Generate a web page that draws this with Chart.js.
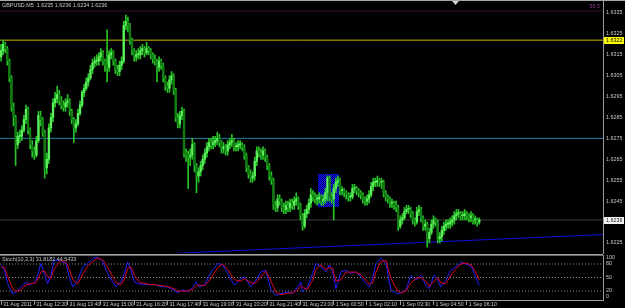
<!DOCTYPE html>
<html><head><meta charset="utf-8">
<script src="https://cdn.jsdelivr.net/npm/chart.js@4/dist/chart.umd.min.js"></script>
<style>
html,body{margin:0;padding:0;background:#000;}
#wrap{position:relative;width:625px;height:308px;background:#000;overflow:hidden;}
#c1{position:absolute;left:0;top:0;}
#c2{position:absolute;left:0;top:254px;}
</style></head><body>
<div id="wrap"><canvas id="c1" width="625" height="254"></canvas><canvas id="c2" width="625" height="54"></canvas></div>
<script>
// ---------- DATA ----------
const symbolTitle = "GBPUSD,M5  1.6235 1.6236 1.6234 1.6236";
const stochTitle = "Stoch(10,3,3) 31.8182 44.5433";
const firstOpen = 1.6314;
const closes = [
1.6317,1.6320,1.6318,1.6312,1.6304,1.6290,1.6285,1.6272,1.6276,1.6276,
1.6279,1.6284,1.6289,1.6279,1.6272,1.6269,1.6267,1.6274,1.6286,1.6284,
1.6278,1.6261,1.6265,1.6280,1.6285,1.6292,1.6294,1.6296,1.6293,1.6291,
1.6290,1.6292,1.6293,1.6288,1.6284,1.6280,1.6282,1.6287,1.6291,1.6297,
1.6299,1.6302,1.6304,1.6308,1.6311,1.6312,1.6312,1.6314,1.6316,1.6312,
1.6310,1.6309,1.6315,1.6316,1.6312,1.6308,1.6307,1.6310,1.6312,1.6329,
1.6331,1.6329,1.6322,1.6317,1.6314,1.6315,1.6315,1.6317,1.6318,1.6316,
1.6318,1.6317,1.6315,1.6313,1.6312,1.6309,1.6312,1.6310,1.6304,1.6300,
1.6299,1.6303,1.6305,1.6298,1.6285,1.6282,1.6286,1.6288,1.6268,1.6267,
1.6266,1.6267,1.6272,1.6262,1.6257,1.6259,1.6262,1.6265,1.6268,1.6271,
1.6273,1.6272,1.6273,1.6274,1.6275,1.6273,1.6270,1.6271,1.6269,1.6272,
1.6273,1.6274,1.6271,1.6271,1.6272,1.6272,1.6271,1.6267,1.6261,1.6258,
1.6256,1.6257,1.6264,1.6269,1.6268,1.6267,1.6269,1.6266,1.6262,1.6257,
1.6255,1.6243,1.6242,1.6246,1.6245,1.6242,1.6241,1.6243,1.6242,1.6244,
1.6243,1.6245,1.6246,1.6243,1.6238,1.6233,1.6239,1.6241,1.6244,1.6248,
1.6247,1.6246,1.6246,1.6247,1.6245,1.6246,1.6249,1.6256,1.6247,1.6246,
1.6251,1.6254,1.6255,1.6250,1.6250,1.6249,1.6248,1.6247,1.6247,1.6251,
1.6251,1.6250,1.6249,1.6248,1.6246,1.6245,1.6246,1.6248,1.6252,1.6254,
1.6254,1.6255,1.6254,1.6254,1.6249,1.6247,1.6246,1.6244,1.6244,1.6243,
1.6242,1.6233,1.6236,1.6237,1.6240,1.6241,1.6241,1.6239,1.6236,1.6235,
1.6240,1.6241,1.6237,1.6233,1.6234,1.6227,1.6230,1.6234,1.6236,1.6235,
1.6227,1.6228,1.6231,1.6233,1.6234,1.6234,1.6235,1.6236,1.6238,1.6239,
1.6239,1.6238,1.6238,1.6239,1.6238,1.6237,1.6238,1.6236,1.6236,1.6235,
1.6236];
const highs = [
1.6320,1.6322,1.6321,1.6319,1.6313,1.6305,1.6292,1.6286,1.6278,1.6279,
1.6281,1.6286,1.6291,1.6290,1.6280,1.6274,1.6271,1.6276,1.6288,1.6288,
1.6285,1.6279,1.6268,1.6282,1.6287,1.6294,1.6297,1.6300,1.6298,1.6295,
1.6293,1.6294,1.6296,1.6294,1.6289,1.6285,1.6284,1.6289,1.6293,1.6298,
1.6301,1.6304,1.6306,1.6310,1.6313,1.6314,1.6315,1.6316,1.6318,1.6317,
1.6313,1.6327,1.6317,1.6318,1.6317,1.6313,1.6310,1.6312,1.6314,1.6331,
1.6334,1.6333,1.6330,1.6323,1.6318,1.6317,1.6318,1.6319,1.6320,1.6319,
1.6321,1.6319,1.6318,1.6316,1.6315,1.6313,1.6314,1.6313,1.6311,1.6305,
1.6302,1.6305,1.6307,1.6306,1.6299,1.6287,1.6288,1.6290,1.6289,1.6270,
1.6269,1.6270,1.6275,1.6273,1.6263,1.6261,1.6264,1.6267,1.6270,1.6273,
1.6275,1.6275,1.6276,1.6276,1.6278,1.6277,1.6274,1.6273,1.6272,1.6274,
1.6275,1.6277,1.6275,1.6273,1.6274,1.6274,1.6273,1.6272,1.6268,1.6262,
1.6260,1.6259,1.6266,1.6271,1.6271,1.6270,1.6271,1.6270,1.6267,1.6263,
1.6259,1.6256,1.6245,1.6248,1.6248,1.6246,1.6244,1.6245,1.6245,1.6246,
1.6246,1.6247,1.6249,1.6247,1.6244,1.6239,1.6241,1.6243,1.6246,1.6251,
1.6250,1.6249,1.6248,1.6249,1.6248,1.6248,1.6251,1.6257,1.6257,1.6249,
1.6253,1.6256,1.6257,1.6256,1.6252,1.6251,1.6250,1.6249,1.6249,1.6253,
1.6253,1.6252,1.6251,1.6250,1.6249,1.6247,1.6248,1.6250,1.6254,1.6256,
1.6256,1.6257,1.6256,1.6256,1.6255,1.6250,1.6248,1.6247,1.6246,1.6245,
1.6245,1.6243,1.6238,1.6239,1.6242,1.6243,1.6243,1.6242,1.6240,1.6237,
1.6242,1.6243,1.6242,1.6238,1.6236,1.6235,1.6232,1.6236,1.6238,1.6237,
1.6236,1.6230,1.6233,1.6235,1.6236,1.6236,1.6237,1.6238,1.6240,1.6241,
1.6241,1.6240,1.6240,1.6241,1.6240,1.6239,1.6240,1.6239,1.6238,1.6237,
1.6237];
const lows = [
1.6312,1.6315,1.6316,1.6310,1.6302,1.6288,1.6281,1.6262,1.6270,1.6273,
1.6274,1.6278,1.6282,1.6277,1.6270,1.6266,1.6265,1.6266,1.6273,1.6281,
1.6276,1.6256,1.6258,1.6263,1.6278,1.6283,1.6290,1.6292,1.6291,1.6289,
1.6288,1.6288,1.6290,1.6286,1.6282,1.6273,1.6278,1.6281,1.6286,1.6290,
1.6295,1.6298,1.6300,1.6303,1.6306,1.6309,1.6310,1.6310,1.6312,1.6310,
1.6307,1.6302,1.6307,1.6313,1.6310,1.6306,1.6305,1.6305,1.6308,1.6311,
1.6327,1.6326,1.6320,1.6315,1.6312,1.6312,1.6313,1.6313,1.6315,1.6314,
1.6315,1.6315,1.6313,1.6311,1.6310,1.6302,1.6307,1.6308,1.6302,1.6298,
1.6297,1.6297,1.6301,1.6296,1.6283,1.6280,1.6280,1.6284,1.6266,1.6264,
1.6251,1.6262,1.6265,1.6259,1.6249,1.6254,1.6257,1.6260,1.6263,1.6266,
1.6269,1.6270,1.6270,1.6271,1.6272,1.6271,1.6268,1.6268,1.6267,1.6267,
1.6270,1.6271,1.6269,1.6269,1.6269,1.6270,1.6269,1.6265,1.6259,1.6256,
1.6254,1.6254,1.6255,1.6262,1.6266,1.6265,1.6265,1.6264,1.6260,1.6255,
1.6253,1.6241,1.6240,1.6240,1.6243,1.6240,1.6239,1.6239,1.6240,1.6240,
1.6241,1.6241,1.6243,1.6241,1.6236,1.6231,1.6232,1.6237,1.6239,1.6242,
1.6245,1.6244,1.6243,1.6244,1.6243,1.6243,1.6244,1.6245,1.6245,1.6244,
1.6236,1.6249,1.6252,1.6248,1.6248,1.6247,1.6246,1.6245,1.6245,1.6246,
1.6249,1.6248,1.6247,1.6246,1.6244,1.6243,1.6243,1.6244,1.6247,1.6250,
1.6252,1.6252,1.6252,1.6251,1.6247,1.6245,1.6244,1.6242,1.6242,1.6241,
1.6240,1.6231,1.6232,1.6234,1.6236,1.6239,1.6239,1.6237,1.6234,1.6233,
1.6234,1.6238,1.6235,1.6231,1.6231,1.6223,1.6225,1.6229,1.6232,1.6233,
1.6225,1.6225,1.6226,1.6229,1.6231,1.6232,1.6232,1.6233,1.6234,1.6236,
1.6237,1.6236,1.6236,1.6236,1.6236,1.6235,1.6235,1.6234,1.6234,1.6233,
1.6234];
const timeLabels = ["31 Aug 2011","31 Aug 12:20","31 Aug 13:40","31 Aug 15:00","31 Aug 16:20","31 Aug 17:40","31 Aug 19:00","31 Aug 20:20","31 Aug 21:40","31 Aug 23:00","1 Sep 00:50","1 Sep 02:10","1 Sep 03:30","1 Sep 04:50","1 Sep 06:10"];
const labelBars = [0,16,32,48,64,80,96,112,128,144,160,176,192,208,224];
const priceTicks = [1.6225,1.6235,1.6245,1.6255,1.6265,1.6275,1.6285,1.6295,1.6305,1.6315,1.6325,1.6335];
const levelYellow = 1.6322;
const levelCyan = 1.6275;
const bidPrice = 1.6236;
const topLinePrice = 1.6336;
const trendBars = [60, 289.5];
const trendPrices = [1.6219, 1.6229];
const boxBars = [152.4, 162.5];
const boxPrices = [1.6242, 1.6258];
const stochBars = [0,1.6,3.2,5.6,7.2,9.6,12,14.4,16.8,19.2,20.8,22.4,24,25.6,28.8,31.3,32.8,34.5,36.9,39.3,41.7,44.1,46.5,48.9,51.3,53.7,55.3,57.7,59.3,60.9,62.5,64.1,66.5,70.5,73.7,76.9,80.1,83.3,85,87.4,89.8,92.2,93.8,95.5,98,101,104.2,106.6,109,112.2,115.4,117,120.2,122.6,125,127.4,129.8,132.2,134.6,137.8,140.2,142.6,144.2,145,147.4,149.9,151.4,153.8,156.3,157.8,159.5,161,163.5,165.9,168.3,170.7,173.1,175.5,177.1,178.7,180.3,182.7,185.1,187.5,190.7,192.5,194.7,197.1,199.5,201.9,204.3,205.9,208.3,210,211.5,213.9,216.3,218.8,221.2,223.6,226,227.6,230];
const stochMain = [78,66,36,14,18,29,40,33,44,81,59,36,55,89,87,81,51,29,44,74,81,93,95,85,59,40,29,40,59,84,66,40,36,34,34,30,29,22,16,23,18,29,40,29,34,62,81,78,59,33,48,51,29,44,63,66,22,10,14,18,14,29,40,18,29,59,81,74,63,78,63,25,63,66,59,63,51,36,29,48,81,93,81,22,14,16,22,55,44,55,33,25,55,44,29,44,66,74,85,80,76,59,32];
const stochSignal = [74,72,52,25,20,22,34,36,38,62,65,52,48,70,88,84,68,45,36,58,76,86,93,90,72,52,38,34,46,70,74,55,40,35,34,32,30,25,20,20,20,24,32,33,32,48,72,80,68,45,42,48,38,38,52,64,42,18,12,15,16,22,32,28,24,44,68,78,68,72,70,42,45,62,62,62,56,44,35,38,62,86,88,48,20,16,20,38,48,50,42,30,42,50,38,36,54,70,80,82,78,68,45];
const stochLevels = [80,50,20];

// ---------- DERIVED ----------
const opens = closes.map((c,i)=> i===0 ? firstOpen : closes[i-1]);
const XMIN = -0.5, XMAX = 289.5;
const FONT = "'Liberation Sans', Arial, sans-serif";
const TXT = '#c8c8c8';
const AXIS = '#9a9a9a';

function hline(v, color, extra){
  return Object.assign({type:'line', data:[{x:XMIN,y:v},{x:XMAX,y:v}], borderColor:color, borderWidth:1, pointRadius:0, order:5}, extra||{});
}
function noPad(s){ s.paddingTop=0; s.paddingBottom=0; s.paddingLeft=0; s.paddingRight=0; }

function bluePattern(ctx){
  const p = document.createElement('canvas'); p.width=2; p.height=2;
  const g = p.getContext('2d');
  g.fillStyle='#1818ff'; g.fillRect(0,0,2,2);
  g.fillStyle='#00006a'; g.fillRect(0,0,1,1); g.fillRect(1,1,1,1);
  return ctx.createPattern(p,'repeat');
}

const overlay1 = {
  id:'overlay1',
  beforeDatasetsDraw(chart){
    const {ctx, scales:{x,y}} = chart;
    const x0 = x.getPixelForValue(boxBars[0]), x1 = x.getPixelForValue(boxBars[1]);
    const y0 = y.getPixelForValue(boxPrices[1]), y1 = y.getPixelForValue(boxPrices[0]);
    ctx.save();
    ctx.fillStyle = bluePattern(ctx);
    ctx.fillRect(Math.round(x0), Math.round(y0), Math.round(x1-x0), Math.round(y1-y0));
    ctx.restore();
  },
  afterDraw(chart){
    const {ctx, chartArea:a, scales:{y}} = chart;
    ctx.save();
    ctx.fillStyle='#a8a8a8'; ctx.fillRect(0,0,625,1);
    ctx.fillStyle='#d0d0d0';
    ctx.beginPath(); ctx.moveTo(452,1); ctx.lineTo(459,1); ctx.lineTo(455.5,5); ctx.closePath(); ctx.fill();
    ctx.font = "5.4px " + FONT; ctx.fillStyle = TXT; ctx.textBaseline='middle'; ctx.textAlign='left';
    ctx.fillText(symbolTitle, 2, 6);
    ctx.fillStyle='#8a3a8a'; ctx.textAlign='right';
    ctx.fillText('56.5', 600, 7);
    ctx.textAlign='left';
    const yy = Math.round(y.getPixelForValue(levelYellow));
    ctx.fillStyle='#ffff00'; ctx.fillRect(604, yy-3, 20, 7);
    ctx.fillStyle='#000'; ctx.fillText(levelYellow.toFixed(4), 606, yy+0.5);
    const yb = Math.round(y.getPixelForValue(bidPrice));
    ctx.fillStyle='#f4f4f4'; ctx.fillRect(604, yb-3, 20, 7);
    ctx.fillStyle='#202020'; ctx.fillText(bidPrice.toFixed(4), 606, yb+0.5);
    ctx.restore();
  }
};

const overlay2 = {
  id:'overlay2',
  afterDraw(chart){
    const {ctx, chartArea:a, scales:{y}} = chart;
    ctx.save();
    ctx.fillStyle='#a8a8a8'; ctx.fillRect(0,0,a.right,1.6);
    ctx.font = "5.4px " + FONT; ctx.fillStyle = TXT; ctx.textBaseline='middle'; ctx.textAlign='left';
    ctx.fillText(stochTitle, 2, 5.5);
    ctx.fillText('100', 606, y.getPixelForValue(100)+2.5);
    ctx.fillText('0', 606, y.getPixelForValue(0)-3);
    ctx.restore();
  }
};

new Chart(document.getElementById('c1'), {
  type:'bar',
  data:{datasets:[
    {type:'bar', data: closes.map((c,i)=>({x:i, y:[Math.min(opens[i],c), Math.max(opens[i],c)]})),
     backgroundColor: (ctx)=> { const i=ctx.dataIndex; return closes[i] >= opens[i] ? '#5cf05c' : '#127c12'; },
     barThickness:1.7, minBarLength:1, grouped:false, order:1},
    {type:'bar', data: closes.map((c,i)=>({x:i, y:[lows[i], highs[i]]})),
     backgroundColor:'#26c426', barThickness:1, grouped:false, order:2},
    hline(levelYellow, '#c8b400'),
    hline(levelCyan, '#1f80a4'),
    hline(bidPrice, '#3e3e3e'),
    hline(topLinePrice, '#3c0c34'),
    {type:'line', data:[{x:trendBars[0],y:trendPrices[0]},{x:trendBars[1],y:trendPrices[1]}], borderColor:'#1010e0', borderWidth:1, pointRadius:0, order:4}
  ]},
  options:{
    responsive:false, animation:false, devicePixelRatio:1, events:[],
    layout:{padding:{top:1,bottom:1,left:0,right:0}, autoPadding:false},
    plugins:{legend:{display:false}, tooltip:{enabled:false}},
    scales:{
      x:{type:'linear', min:XMIN, max:XMAX, display:false, offset:false},
      y:{position:'right', min:1.622017, max:1.634074,
         afterFit(s){ s.width = 22; noPad(s); },
         afterBuildTicks(s){ s.ticks = priceTicks.map(v=>({value:v})); },
         ticks:{callback:(v)=>Number(v).toFixed(4), color:TXT, font:{size:5.4, family:FONT}, padding:3, autoSkip:false},
         grid:{drawOnChartArea:false, drawTicks:false},
         border:{display:true, color:AXIS, width:1}}
    }
  },
  plugins:[overlay1]
});

new Chart(document.getElementById('c2'), {
  type:'line',
  data:{datasets:[
    {data: stochBars.map((b,k)=>({x:b,y:stochSignal[k]})), borderColor:'#e00020', borderWidth:1, pointRadius:0, tension:0, order:1},
    {data: stochBars.map((b,k)=>({x:b,y:stochMain[k]})), borderColor:'#2020ff', borderWidth:1, pointRadius:0, tension:0, order:2},
    ...stochLevels.map(v=>({data:[{x:XMIN,y:v},{x:XMAX,y:v}], borderColor:'#8a8a8a', borderWidth:1, borderDash:[1,2], pointRadius:0, order:3}))
  ]},
  options:{
    responsive:false, animation:false, devicePixelRatio:1, events:[],
    layout:{padding:{top:1,bottom:0,left:0,right:0}, autoPadding:false},
    plugins:{legend:{display:false}, tooltip:{enabled:false}},
    scales:{
      x:{type:'linear', min:XMIN, max:XMAX, position:'bottom',
         afterFit(s){ s.height = 8; noPad(s); },
         afterBuildTicks(s){ s.ticks = labelBars.map(v=>({value:v})); },
         ticks:{callback:(v,i)=>timeLabels[i], color:TXT, font:{size:5.2, family:FONT}, padding:-4, align:'start', labelOffset:2, maxRotation:0, autoSkip:false},
         grid:{drawOnChartArea:false, drawTicks:true, tickLength:5, color:'#9a9a9a'},
         border:{display:true, color:AXIS, width:1}},
      y:{position:'right', min:0, max:100,
         afterFit(s){ s.width = 22; noPad(s); },
         afterBuildTicks(s){ s.ticks = stochLevels.map(v=>({value:v})); },
         ticks:{color:TXT, font:{size:5.4, family:FONT}, padding:3, autoSkip:false},
         grid:{drawOnChartArea:false, drawTicks:false},
         border:{display:true, color:AXIS, width:1}}
    }
  },
  plugins:[overlay2]
});
</script>
</body></html>
